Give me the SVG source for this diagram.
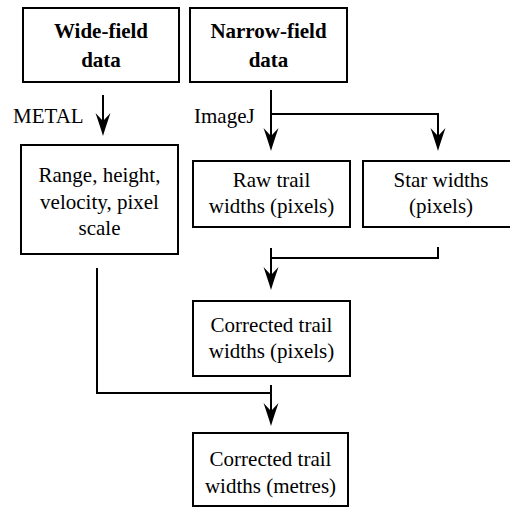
<svg xmlns="http://www.w3.org/2000/svg" width="510" height="508" viewBox="0 0 510 508">
<style>
.box{fill:#fff;stroke:#000;stroke-width:2}
.t{font-family:"Liberation Serif","Times New Roman",serif;font-size:21px;fill:#000;text-anchor:middle}
.b{font-weight:bold}
.lbl{font-family:"Liberation Serif","Times New Roman",serif;font-size:21px;fill:#000}
.c{fill:none;stroke:#000;stroke-width:2}
</style>
<defs>
<marker id="ah" markerUnits="userSpaceOnUse" markerWidth="26" markerHeight="18" viewBox="0 0 26 18" refX="13" refY="9" orient="auto">
<path d="M0,1.5 Q13,6 23,9 Q13,12 0,16.5 L8,9 Z" fill="#000"/>
</marker>
</defs>
<rect width="510" height="508" fill="#fff"/>
<g id="connectors">
<path class="c" d="M103,95 V126" marker-end="url(#ah)"/>
<path class="c" d="M271,90 V141" marker-end="url(#ah)"/>
<path class="c" d="M271,114 H438 V141" marker-end="url(#ah)"/>
<path class="c" d="M438,247 V258 H271"/>
<path class="c" d="M271,248 V280" marker-end="url(#ah)"/>
<path class="c" d="M97,268 V393 H271"/>
<path class="c" d="M271,385 V416" marker-end="url(#ah)"/>
<text class="lbl" x="13" y="123">METAL</text>
<text class="lbl" x="194" y="123">ImageJ</text>
</g>
<g id="wide">
<rect class="box" x="23" y="8" width="156" height="74"/>
<text class="t b" x="101" y="38">Wide-field</text>
<text class="t b" x="101" y="67">data</text>
</g>
<g id="narrow">
<rect class="box" x="190" y="8" width="157" height="74"/>
<text class="t b" x="268.5" y="38">Narrow-field</text>
<text class="t b" x="268.5" y="67">data</text>
</g>
<g id="range">
<rect class="box" x="21" y="145" width="157" height="109"/>
<text class="t" x="99.5" y="182">Range, height,</text>
<text class="t" x="99.5" y="209">velocity, pixel</text>
<text class="t" x="99.5" y="235">scale</text>
</g>
<g id="raw">
<rect class="box" x="193" y="161" width="157" height="66"/>
<text class="t" x="271.5" y="187">Raw trail</text>
<text class="t" x="271.5" y="213">widths (pixels)</text>
</g>
<g id="star">
<rect class="box" x="363" y="161" width="157" height="66"/>
<text class="t" x="441" y="187">Star widths</text>
<text class="t" x="441" y="213">(pixels)</text>
</g>
<g id="corrpx">
<rect class="box" x="193" y="301" width="157" height="75"/>
<text class="t" x="271.5" y="332">Corrected trail</text>
<text class="t" x="271.5" y="358">widths (pixels)</text>
</g>
<g id="corrm">
<rect class="box" x="193" y="433" width="155" height="73"/>
<text class="t" x="270.5" y="466">Corrected trail</text>
<text class="t" x="270.5" y="493">widths (metres)</text>
</g>
</svg>
